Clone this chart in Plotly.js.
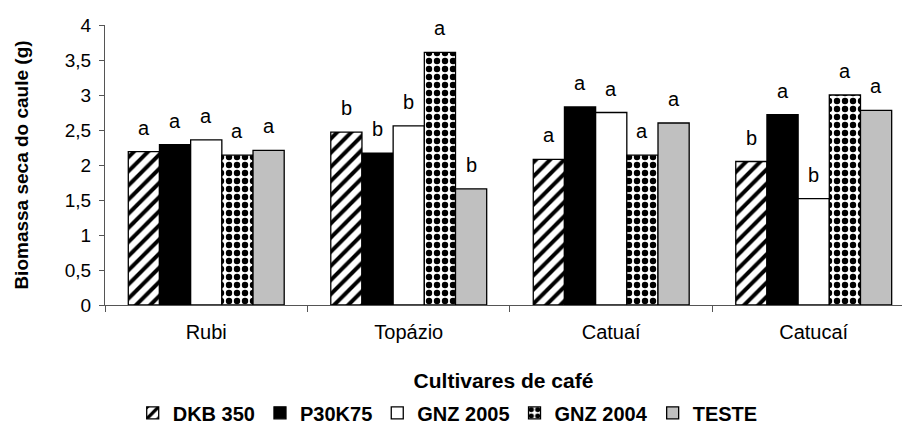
<!DOCTYPE html>
<html><head><meta charset="utf-8">
<script src="https://cdn.plot.ly/plotly-3.0.1.min.js"></script>
<style>html,body{margin:0;padding:0;background:#fff}#chart{width:902px;height:430px}</style>
</head><body><div id="chart"></div>
<script>
const cultivares = ["Rubi", "Topázio", "Catuaí", "Catucaí"];
const seriesNames = ["DKB 350", "P30K75", "GNZ 2005", "GNZ 2004", "TESTE"];
const dkb350 = [2.19, 2.47, 2.08, 2.05];
const p30k75 = [2.29, 2.17, 2.83, 2.72];
const gnz2005 = [2.36, 2.56, 2.75, 1.52];
const gnz2004 = [2.14, 3.61, 2.14, 3.00];
const teste = [2.21, 1.66, 2.60, 2.78];
const letrasDkb350 = ["a", "b", "a", "b"];
const letrasP30k75 = ["a", "b", "a", "a"];
const letrasGnz2005 = ["a", "b", "a", "b"];
const letrasGnz2004 = ["a", "a", "a", "a"];
const letrasTeste = ["a", "b", "a", "a"];

const FONT = "Liberation Sans, Arial, sans-serif";
const values = [dkb350, p30k75, gnz2005, gnz2004, teste];
const letters = [letrasDkb350, letrasP30k75, letrasGnz2005, letrasGnz2004, letrasTeste];
const outline = {color: "#000", width: 1.3};
const markers = [
  {color: "#ffffff", line: outline, pattern: {shape: "/", fgcolor: "#000", bgcolor: "#fff", size: 10, solidity: 0.4}},
  {color: "#000000", line: outline},
  {color: "#ffffff", line: outline},
  {color: "#ffffff", line: outline, pattern: {shape: ".", fgcolor: "#000", bgcolor: "#fff", size: 8, solidity: 0.5}},
  {color: "#c0c0c0", line: outline}
];

const bargap = 0.23;
const traces = values.map((v, i) => ({
  type: "bar", name: seriesNames[i], x: cultivares, y: v, marker: markers[i]
}));

const n = values.length;
const groupW = 1 - bargap;
const barW = groupW / n;
const annotations = [];
values.forEach((v, i) => {
  v.forEach((val, j) => {
    annotations.push({
      xref: "x", yref: "y", x: j - groupW / 2 + barW * (i + 0.5), y: val,
      text: letters[i][j], showarrow: false, yanchor: "middle", yshift: 24,
      font: {family: FONT, size: 20, color: "#000"}
    });
  });
});

const layout = {
  width: 902, height: 430,
  margin: {l: 105, r: 0, t: 25, b: 125, autoexpand: false},
  paper_bgcolor: "#fff", plot_bgcolor: "#fff",
  barmode: "group", bargap: bargap, bargroupgap: 0,
  separators: ",.",
  showlegend: true,
  legend: {orientation: "h", x: 0.43, xanchor: "center", y: -0.385, yanchor: "middle",
    font: {family: FONT, size: 20, color: "#000", weight: "bold"},
    itemwidth: 30, traceorder: "normal", borderwidth: 0},
  xaxis: {
    type: "category", range: [-0.5, 3.436],
    showline: true, linecolor: "#555", linewidth: 1,
    ticks: "outside", tickson: "boundaries", ticklen: 6, tickcolor: "#555",
    ticklabelstandoff: 9,
    tickfont: {family: FONT, size: 20, color: "#000"},
    showgrid: false, zeroline: false,
    title: {text: "Cultivares de café", standoff: 31,
      font: {family: FONT, size: 21, color: "#000", weight: "bold"}}
  },
  yaxis: {
    range: [0, 4], dtick: 0.5, tick0: 0,
    showline: true, linecolor: "#555", linewidth: 1,
    ticks: "outside", ticklen: 5, tickcolor: "#555",
    ticklabelstandoff: 4,
    tickfont: {family: FONT, size: 19, color: "#000"},
    showgrid: false, zeroline: false,
    title: {text: "Biomassa seca do caule (g)", standoff: 31,
      font: {family: FONT, size: 19, color: "#000", weight: "bold"}}
  },
  annotations: annotations
};

Plotly.newPlot("chart", traces, layout, {displayModeBar: false, staticPlot: true});
</script>
</body></html>
